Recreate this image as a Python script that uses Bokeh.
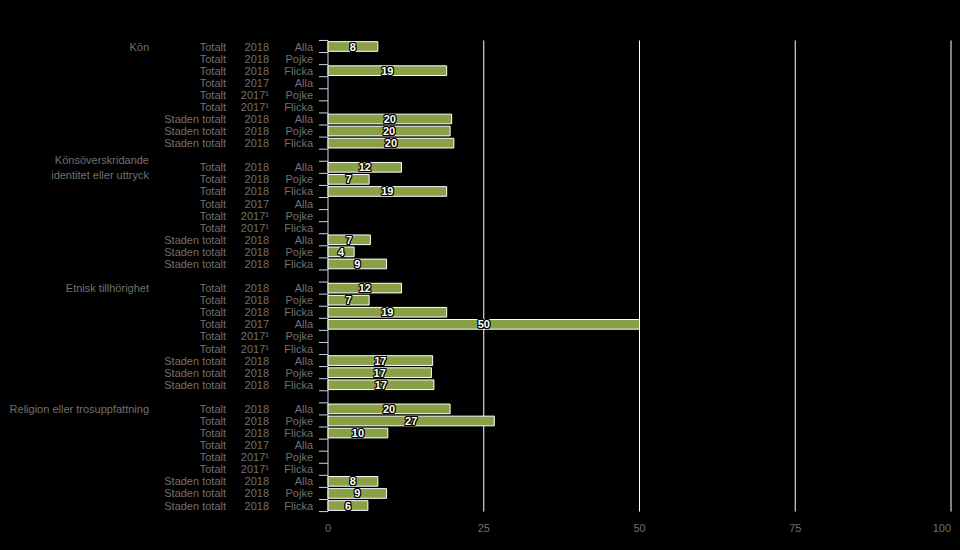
from bokeh.plotting import figure
from bokeh.models import ColumnDataSource, Range1d
from bokeh.core.properties import value
from bokeh.embed import file_html
from bokeh.resources import INLINE

# ---------------- data ----------------
groups = ["Kön", "Könsöverskridande\nidentitet eller uttryck",
          "Etnisk tillhörighet", "Religion eller trosuppfattning"]
regions = ["Totalt"] * 6 + ["Staden totalt"] * 3
years = ["2018", "2018", "2018", "2017", "2017¹", "2017¹", "2018", "2018", "2018"]
genders = ["Alla", "Pojke", "Flicka"] * 3

kon = [8.0, None, 19.05, None, None, None, 19.85, 19.6, 20.2]
konsover = [11.8, 6.6, 19.05, None, None, None, 6.8, 4.2, 9.4]
etnisk = [11.8, 6.6, 19.05, 50.0, None, None, 16.8, 16.6, 17.0]
religion = [19.6, 26.7, 9.6, None, None, None, 8.0, 9.4, 6.4]
series = [kon, konsover, etnisk, religion]

x_ticks = [0, 25, 50, 75, 100]

# ---------------- layout ----------------
W, H = 960, 550
x0_px, x100_px = 327.5, 950.5      # pixel positions of 0 and 100 inside the figure
ppu = (x100_px - x0_px) / 100.0
row0_px, row_h = 46, 12.08
rows_per_group = len(regions) + 1
n_rows = rows_per_group * len(groups) - 1

p = figure(width=W, height=H, output_backend="svg", toolbar_location=None,
           x_axis_location=None, y_axis_location=None, min_border=0,
           x_range=Range1d(-x0_px / ppu, 100 + (W - x100_px) / ppu),
           y_range=Range1d((H - row0_px) / row_h, -row0_px / row_h))
p.background_fill_color = "#000000"
p.border_fill_color = "#000000"
p.outline_line_color = None
p.xgrid.visible = False
p.ygrid.visible = False

top, bottom = -0.5, n_rows - 0.5

# grid lines
gx = [t for t in x_ticks if t > 0]
p.segment(x0=gx, y0=[top] * len(gx), x1=gx, y1=[bottom] * len(gx),
          line_color="#ffffff", line_width=1)

# category axis line and ticks at row boundaries
p.segment(x0=[0], y0=[top], x1=[0], y1=[bottom], line_color="#ccd6eb", line_width=1)
bounds = [k - 0.5 for k in range(n_rows + 1)]
p.segment(x0=[-9 / ppu] * len(bounds), y0=bounds, x1=[0] * len(bounds), y1=bounds,
          line_color="#ccd6eb", line_width=1)

# build rows
bar_y, bar_v, bar_lbl = [], [], []
lab_y, lab_reg, lab_year, lab_gen = [], [], [], []
grp_y = []
for g, vals in enumerate(series):
    base = g * rows_per_group
    grp_y.append(base)
    for r, v in enumerate(vals):
        y = base + r
        lab_y.append(y)
        lab_reg.append(regions[r])
        lab_year.append(years[r])
        lab_gen.append(genders[r])
        if v is not None:
            bar_y.append(y)
            bar_v.append(v)
            bar_lbl.append(str(round(v)))

bars = ColumnDataSource(dict(y=bar_y, v=bar_v, mid=[v / 2 for v in bar_v], lbl=bar_lbl))
p.hbar(y="y", left=0, right="v", height=0.8, source=bars,
       fill_color="#8aa046", line_color="#ffffff", line_width=1)

# value labels: white bold text with a thin dark outline
lab_font = dict(text_font=value("Liberation Sans"), text_font_size="11px",
                text_font_style="bold", text_align="center", text_baseline="middle")
for dx, dy in ((-1, 0), (1, 0), (0, -1), (0, 1), (-1, -1), (1, 1), (-1, 1), (1, -1)):
    p.text(x="mid", y="y", text="lbl", source=bars, x_offset=dx, y_offset=dy,
           text_color="#000000", **lab_font)
p.text(x="mid", y="y", text="lbl", source=bars, text_color="#ffffff", **lab_font)

labels = ColumnDataSource(dict(y=lab_y, reg=lab_reg, yr=lab_year, gen=lab_gen,
                               x=[0] * len(lab_y)))
lab_col = "#707070"
for field, off in (("reg", -102), ("yr", -59), ("gen", -15)):
    p.text(x="x", y="y", text=field, source=labels, x_offset=off,
           text_align="right", text_baseline="middle", text_color=lab_col,
           text_font=value("Liberation Sans"), text_font_size="11px")

p.text(x=[0] * len(groups), y=grp_y, text=groups, x_offset=-179,
       text_align="right", text_baseline="middle", text_color=lab_col,
       text_font=value("Liberation Sans"), text_font_size="11px", text_line_height=1.25)

xt = ColumnDataSource(dict(x=x_ticks, y=[bottom] * len(x_ticks),
                           t=[str(t) for t in x_ticks],
                           a=["center"] * (len(x_ticks) - 1) + ["right"]))
p.text(x="x", y="y", text="t", source=xt, y_offset=16, text_align="a",
       text_baseline="middle", text_color=lab_col,
       text_font=value("Liberation Sans"), text_font_size="11px")

html = file_html(p, INLINE)
html = html.replace("<head>", "<head><style>html,body{background:#000;margin:0;}</style>", 1)
open("out.html", "w").write(html)
